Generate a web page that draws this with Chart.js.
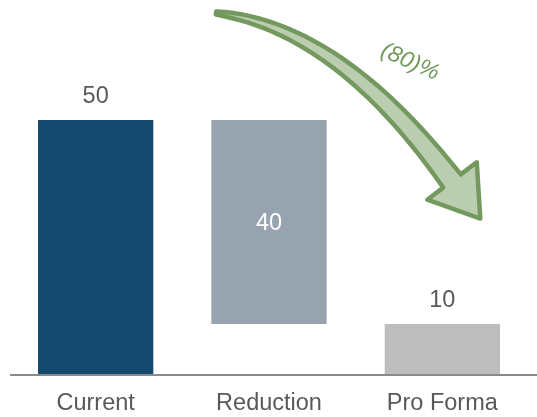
<!DOCTYPE html>
<html>
<head>
<meta charset="utf-8">
<script src="https://cdn.jsdelivr.net/npm/chart.js@4"></script>
<style>
  html, body { margin: 0; padding: 0; background: #fff; }
  #wrap { width: 537px; height: 417px; }
</style>
</head>
<body>
<div id="wrap"><canvas id="bridgeChart"></canvas></div>
<script>
// chart data
const categories = ['Current', 'Reduction', 'Pro Forma'];
const values = [50, 40, 10];
const barColors = ['#134a6e', '#97a3ae', '#bdbdbd'];
const labelColors = ['#595959', '#ffffff', '#595959'];
const changeLabel = '(80)%';

// waterfall: first and last start at zero, middle one hangs from the first
const floating = [
  [0, values[0]],
  [values[0] - values[1], values[0]],
  [0, values[2]]
];

const FONT = '"Liberation Sans", Arial, sans-serif';

const valueLabels = {
  id: 'valueLabels',
  afterDatasetsDraw(chart) {
    const ctx = chart.ctx;
    const meta = chart.getDatasetMeta(0);
    ctx.save();
    ctx.font = '23.5px ' + FONT;
    ctx.textAlign = 'center';
    ctx.textBaseline = 'middle';
    meta.data.forEach((bar, i) => {
      ctx.fillStyle = labelColors[i];
      let y;
      if (i === 1) {
        y = (bar.y + bar.base) / 2 + 2;
      } else {
        y = bar.y - 23;
      }
      ctx.fillText(String(values[i]), bar.x, y);
    });
    ctx.restore();
  }
};

const axisLine = {
  id: 'axisLine',
  afterDatasetsDraw(chart) {
    const ctx = chart.ctx;
    const y = chart.scales.y.getPixelForValue(0);
    ctx.save();
    ctx.strokeStyle = '#8a8a8a';
    ctx.lineWidth = 2;
    ctx.beginPath();
    ctx.moveTo(chart.chartArea.left + 1, y);
    ctx.lineTo(chart.width, y);
    ctx.stroke();
    ctx.restore();
  }
};

// curved arrow + (80)% text
const bigArrow = {
  id: 'bigArrow',
  afterDraw(chart) {
    const ctx = chart.ctx;
    const p0 = [216, 13], p1 = [330, 26], p2 = [412, 128], p3 = [452, 181];
    const bez = (t, k) => {
      const u = 1 - t;
      return u*u*u*p0[k] + 3*u*u*t*p1[k] + 3*u*t*t*p2[k] + t*t*t*p3[k];
    };
    const der = (t, k) => {
      const u = 1 - t;
      return 3*u*u*(p1[k]-p0[k]) + 6*u*t*(p2[k]-p1[k]) + 3*t*t*(p3[k]-p2[k]);
    };
    const left = [], right = [];
    const n = 40;
    for (let i = 0; i <= n; i++) {
      const t = i / n;
      const x = bez(t, 0), y = bez(t, 1);
      let dx = der(t, 0), dy = der(t, 1);
      const len = Math.hypot(dx, dy);
      dx /= len; dy /= len;
      const hw = 1.5 + 9.5 * Math.pow(t, 0.7);
      left.push([x + dy * hw, y - dx * hw]);
      right.push([x - dy * hw, y + dx * hw]);
    }
    let dx = der(1, 0), dy = der(1, 1);
    const len = Math.hypot(dx, dy);
    dx /= len; dy /= len;
    const hb = 31, hl = 47;
    const b1 = [p3[0] + dy * hb, p3[1] - dx * hb];
    const b2 = [p3[0] - dy * hb, p3[1] + dx * hb];
    const tip = [p3[0] + dx * hl, p3[1] + dy * hl];

    ctx.save();
    ctx.beginPath();
    ctx.moveTo(left[0][0], left[0][1]);
    left.forEach(p => ctx.lineTo(p[0], p[1]));
    ctx.lineTo(b1[0], b1[1]);
    ctx.lineTo(tip[0], tip[1]);
    ctx.lineTo(b2[0], b2[1]);
    for (let i = right.length - 1; i >= 0; i--) ctx.lineTo(right[i][0], right[i][1]);
    ctx.closePath();
    ctx.fillStyle = '#bacdb1';
    ctx.fill();
    ctx.strokeStyle = '#74995e';
    ctx.lineWidth = 4.5;
    ctx.lineJoin = 'round';
    ctx.stroke();

    ctx.translate(410, 62);
    ctx.rotate(24 * Math.PI / 180);
    ctx.font = 'italic 23px ' + FONT;
    ctx.fillStyle = '#6f9a5a';
    ctx.textAlign = 'center';
    ctx.textBaseline = 'middle';
    ctx.fillText(changeLabel, 0, 0);
    ctx.restore();
  }
};

new Chart(document.getElementById('bridgeChart'), {
  type: 'bar',
  data: {
    labels: categories,
    datasets: [{
      data: floating,
      backgroundColor: barColors,
      borderWidth: 0,
      barPercentage: 0.665,
      categoryPercentage: 1
    }]
  },
  options: {
    responsive: true,
    maintainAspectRatio: false,
    animation: false,
    layout: { padding: { left: 9, right: 8, top: 18, bottom: 0 } },
    plugins: {
      legend: { display: false },
      tooltip: { enabled: false }
    },
    scales: {
      x: {
        grid: { display: false, drawTicks: false },
        border: { display: false },
        afterFit(scale) { scale.height = 42; },
        ticks: {
          color: '#595959',
          padding: 14,
          font: { family: FONT, size: 23.5 }
        }
      },
      y: {
        display: false,
        min: 0,
        max: 70
      }
    }
  },
  plugins: [valueLabels, axisLine, bigArrow]
});
</script>
</body>
</html>
